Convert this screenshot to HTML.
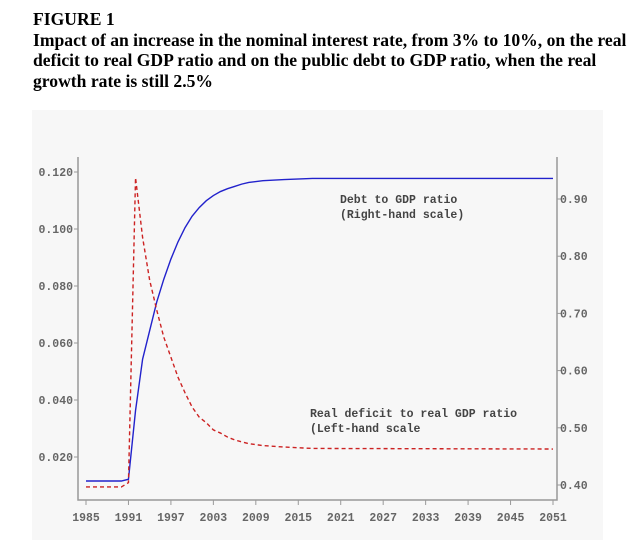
<!DOCTYPE html>
<html><head><meta charset="utf-8"><style>
body{margin:0;background:#fff;width:640px;height:553px;overflow:hidden}
.t{position:absolute;left:33px;font-family:"Liberation Serif",serif;font-weight:bold;font-size:17.6px;line-height:20.5px;color:#000;white-space:nowrap}
svg{position:absolute;left:0;top:0}
</style></head><body>
<div class="t" style="top:9px">FIGURE 1<br>Impact of an increase in the nominal interest rate, from 3% to 10%, on the real<br>deficit to real GDP ratio and on the public debt to GDP ratio, when the real<br>growth rate is still 2.5%</div>
<svg id="c" width="640" height="553"></svg>
<script>
const years=[1985,1986,1987,1988,1989,1990,1991,1992,1993,1994,1995,1996,1997,1998,1999,2000,2001,2002,2003,2004,2005,2006,2007,2008,2010,2013,2017,2051];
const debt=[0.407,0.407,0.407,0.407,0.407,0.407,0.41,0.53,0.62,0.67,0.72,0.76,0.795,0.825,0.85,0.87,0.885,0.897,0.906,0.913,0.918,0.922,0.926,0.929,0.932,0.934,0.936,0.936];
const deficit=[0.0095,0.0095,0.0095,0.0095,0.0095,0.0095,0.011,0.118,0.097,0.082,0.0715,0.062,0.055,0.048,0.0425,0.0375,0.034,0.032,0.0295,0.0284,0.027,0.026,0.0253,0.0247,0.024,0.0235,0.023,0.0228];
const leftTicks=[0.020,0.040,0.060,0.080,0.100,0.120];
const rightTicks=[0.40,0.50,0.60,0.70,0.80,0.90];
const xTicks=[1985,1991,1997,2003,2009,2015,2021,2027,2033,2039,2045,2051];
const X=y=>86+(y-1985)*(553-86)/66;
const YL=v=>514-v*2850;
const YR=v=>485-(v-0.40)*572;
const s=document.getElementById('c');
const NS='http://www.w3.org/2000/svg';
function mk(t,a,p){const e=document.createElementNS(NS,t);for(const k in a)e.setAttribute(k,a[k]);(p||s).appendChild(e);return e;}
const bg=mk('rect',{x:32,y:110,width:571,height:430,fill:'#f7f7f7'});


const f='font-family:"Liberation Mono",monospace;font-size:11.5px;font-weight:bold;fill:#666';
const ax=mk('path',{d:'M78 157V500H557V157',fill:'none',stroke:'#999','stroke-width':1.5});


leftTicks.forEach(v=>{const y=YL(v);mk('line',{x1:74,x2:78,y1:y,y2:y,stroke:'#999'});
const t=mk('text',{x:73,y:y+4,'text-anchor':'end',style:f});t.textContent=v.toFixed(3);

});
rightTicks.forEach(v=>{const y=YR(v);mk('line',{x1:557,x2:561,y1:y,y2:y,stroke:'#999'});
const t=mk('text',{x:560,y:y+4,style:f});t.textContent=v.toFixed(2);

});
xTicks.forEach(v=>{const x=X(v);mk('line',{x1:x,x2:x,y1:500,y2:505,stroke:'#999'});
const t=mk('text',{x:x,y:521,'text-anchor':'middle',style:f});t.textContent=v;

});
const d1=mk('polyline',{points:years.map((y,i)=>X(y)+','+YR(debt[i])).join(' '),fill:'none',stroke:'#2222cc','stroke-width':1.4});


const d2=mk('polyline',{points:years.map((y,i)=>X(y)+','+YL(deficit[i])).join(' '),fill:'none',stroke:'#cc2222','stroke-width':1.4,'stroke-dasharray':'4,3'});


const lf='font-family:"Liberation Mono",monospace;font-size:11.5px;font-weight:bold;fill:#444';
[['Debt to GDP ratio',340,203],['(Right-hand scale)',340,218],['Real deficit to real GDP ratio',310,417],['(Left-hand scale',310,432]].forEach((a,i)=>{
const t=mk('text',{x:a[1],y:a[2],style:lf});t.textContent=a[0];

});
</script>
</body></html>
